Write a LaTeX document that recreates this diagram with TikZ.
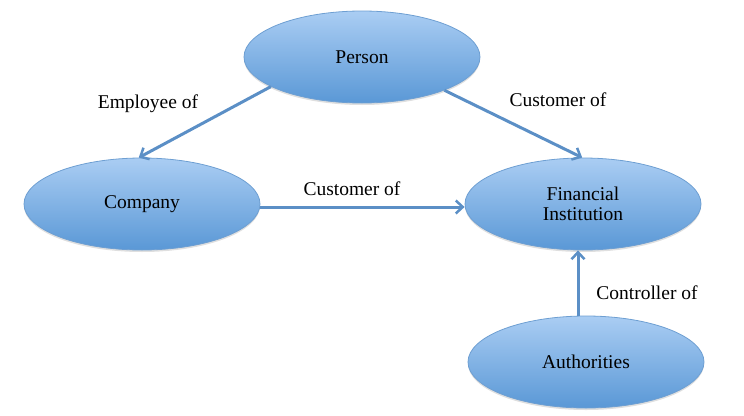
\documentclass[tikz,border=0pt]{standalone}
\usepackage{fontspec}
\setmainfont{Liberation Serif}
\usetikzlibrary{shapes.geometric,arrows.meta,shadows}
\definecolor{ellTop}{HTML}{AACDF3}
\definecolor{ellBot}{HTML}{5A98D6}
\definecolor{ellLine}{HTML}{6E9FD2}
\definecolor{arrowCol}{HTML}{5B8FC6}
\tikzset{
  ent/.style={ellipse, draw=ellLine, line width=0.8pt, top color=ellTop, bottom color=ellBot,
    minimum width=236pt, minimum height=92pt, inner sep=0pt, align=center,
    drop shadow={shadow xshift=0pt, shadow yshift=-2pt, opacity=0.25, fill=gray},
    font=\fontsize{19.5}{23}\selectfont},
  rel/.style={draw=arrowCol, line width=3pt, -{Straight Barb[length=7pt,width=13pt,line width=2.5pt]}},
  lbl/.style={font=\fontsize{19.5}{23}\selectfont, inner sep=0pt}
}
\begin{document}
\begin{tikzpicture}[x=1pt,y=-1pt]
\useasboundingbox (0,0) rectangle (744,415);
\node[ent] (person) at (362,57) {Person};
\node[ent] (company) at (142,204) {Company};
\node[ent] (fin) at (583,204) {Financial\\[-3pt]Institution};
\node[ent] (auth) at (586,362) {Authorities};
\draw[rel] (person.198) -- (company.94);
\draw[rel] (person.-22) -- (fin.91);
\draw[rel] ([yshift=-3pt]company.east) -- ([yshift=-3pt]fin.west |- company.east);
\draw[rel] ([xshift=-8pt]auth.north) -- ([xshift=-8pt]auth.north |- fin.south);
\node[lbl] (l1) at (148,104) {Employee of};
\node[lbl] (l2) at (558,100) {Customer of};
\node[lbl] (l3) at (352,189) {Customer of};
\node[lbl] (l4) at (647,293) {Controller of};
\end{tikzpicture}
\end{document}
